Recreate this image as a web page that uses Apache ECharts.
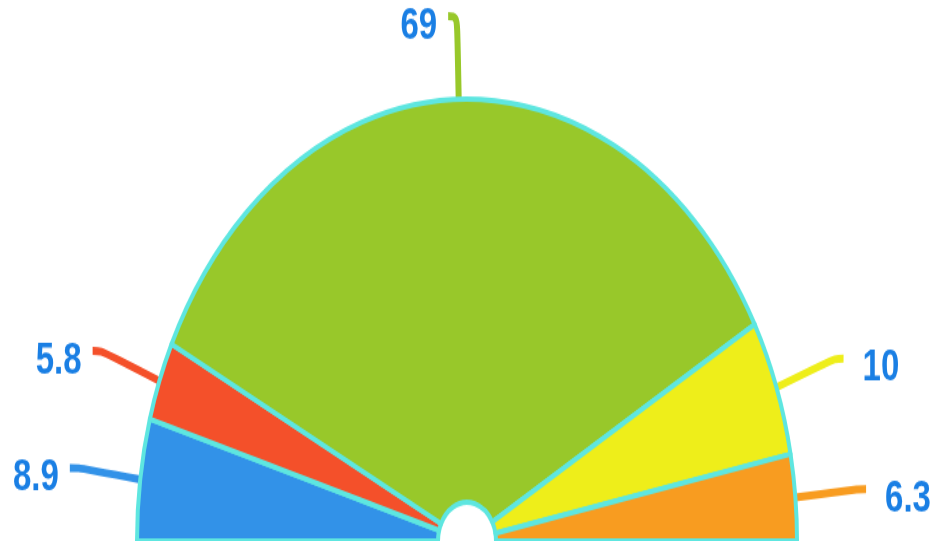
<!DOCTYPE html>
<html><head><meta charset="utf-8">
<script src="https://cdn.jsdelivr.net/npm/echarts@6/dist/echarts.min.js"></script>
<style>html,body{margin:0;padding:0;background:#fff;overflow:hidden}
#wrap{width:931px;height:541px;overflow:hidden}
#chart{width:931px;height:404px;transform:scaleY(1.3391);transform-origin:0 0}</style>
</head><body>
<div id="wrap"><div id="chart"></div></div>
<script>
const values = [8.9, 5.8, 69, 10, 6.3];
const labels = ['8.9', '5.8', '69', '10', '6.3'];
const colors = ['#3292e8', '#f4502a', '#98c82a', '#eeee1a', '#f89c20'];

const chart = echarts.init(document.getElementById('chart'), null, {renderer: 'canvas'});
chart.setOption({
  animation: false,
  series: [{
    type: 'pie',
    center: [467, 404],
    radius: [29, 330],
    startAngle: 180,
    endAngle: 0,
    clockwise: true,
    avoidLabelOverlap: false,
    itemStyle: {borderColor: '#5ee6e0', borderWidth: 4},
    label: {
      show: true,
      position: 'outside',
      color: '#1a7fe4',
      fontFamily: 'Liberation Sans, Arial, sans-serif',
      fontWeight: 'bold',
      fontSize: 33,
      distanceToLabelLine: 11,
      formatter: p => '{a|' + labels[p.dataIndex] + '}',
      rich: {
        a: {
          color: '#1a7fe4',
          fontFamily: 'Liberation Sans, Arial, sans-serif',
          fontWeight: 'bold',
          fontSize: 33,
          padding: [15, 0, 0, 8]
        }
      }
    },
    labelLine: {show: true, length: 62, length2: 9, smooth: 0.4, lineStyle: {width: 6}},
    emphasis: {disabled: true},
    data: values.map((v, i) => ({value: v, name: labels[i], itemStyle: {color: colors[i]}}))
  }]
});
</script>
</body></html>
